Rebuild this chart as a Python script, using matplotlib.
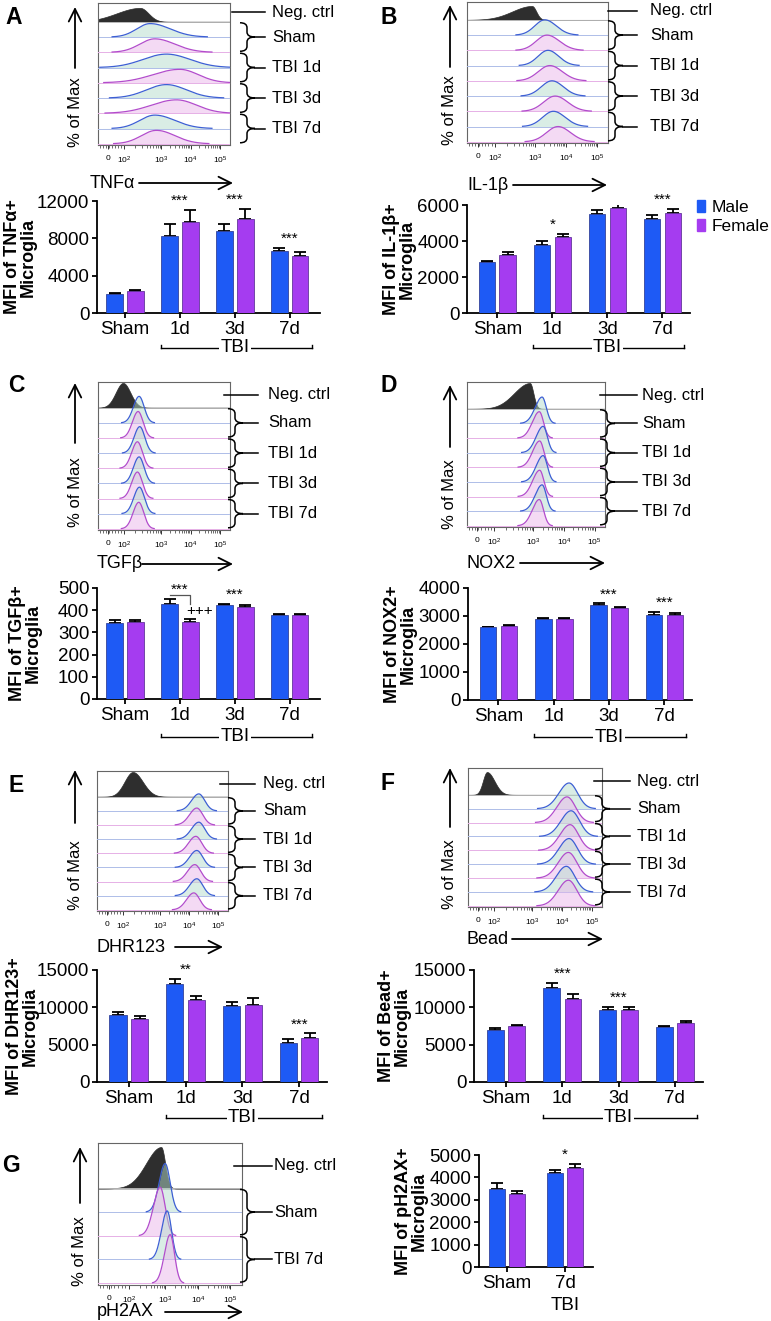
import numpy as np
import matplotlib
matplotlib.use("Agg")
import matplotlib.pyplot as plt
from matplotlib import transforms
from matplotlib.path import Path
from matplotlib.patches import PathPatch, Patch

plt.rcParams['font.family'] = ['Liberation Sans', 'DejaVu Sans']

# ---- bar chart values ----
groups = ["Sham", "1d", "3d", "7d"]
g_groups = ["Sham", "7d"]

tnf_male = [2050, 8300, 8750, 6650]
tnf_male_err = [100, 1200, 800, 300]
tnf_female = [2400, 9750, 10050, 6100]
tnf_female_err = [80, 1300, 1100, 400]
tnf_stars = ["", "***", "***", "***"]

il1b_male = [2850, 3800, 5480, 5250]
il1b_male_err = [30, 220, 250, 200]
il1b_female = [3230, 4200, 5820, 5530]
il1b_female_err = [150, 200, 250, 250]
il1b_stars = ["", "*", "***", "***"]

tgfb_male = [343, 430, 424, 377]
tgfb_male_err = [12, 22, 5, 8]
tgfb_female = [347, 345, 415, 379]
tgfb_female_err = [11, 17, 7, 6]
tgfb_stars = ["", "***", "***", ""]

nox2_male = [2590, 2880, 3400, 3040]
nox2_male_err = [20, 40, 50, 110]
nox2_female = [2650, 2880, 3270, 3020]
nox2_female_err = [25, 35, 50, 100]
nox2_stars = ["", "", "***", "***"]

dhr_male = [8950, 13100, 10200, 5250]
dhr_male_err = [400, 700, 550, 450]
dhr_female = [8400, 11000, 10300, 5950]
dhr_female_err = [400, 500, 900, 550]
dhr_stars = ["", "**", "", "***"]

bead_male = [6950, 12600, 9650, 7350]
bead_male_err = [300, 650, 420, 120]
bead_female = [7500, 11100, 9650, 7950]
bead_female_err = [150, 650, 420, 250]
bead_stars = ["", "***", "***", ""]

ph2ax_male = [3480, 4200]
ph2ax_male_err = [270, 120]
ph2ax_female = [3250, 4420]
ph2ax_female_err = [130, 200]
ph2ax_stars = ["", "*"]

# ---- histogram peaks (position on display axis, left / right spread) ----
# order: Sham M, Sham F, 1d M, 1d F, 3d M, 3d F, 7d M, 7d F
tick_labels = ["0", "$\\mathregular{10^2}$", "$\\mathregular{10^3}$",
               "$\\mathregular{10^4}$", "$\\mathregular{10^5}$"]
tick_pos = [1.6, 2.08, 3.2, 4.07, 4.95]
g_tick_pos = [1.63, 2.23, 3.31, 4.3, 5.26]

a_neg = (2.56, 0.7, 0.25)
a_peak = [2.86, 3.0, 3.35, 3.75, 3.35, 3.65, 3.0, 3.05]
a_left = [0.4, 0.45, 0.7, 0.8, 0.6, 0.75, 0.45, 0.45]
a_right = [0.6, 0.6, 0.7, 0.55, 0.6, 0.6, 0.6, 0.55]

b_neg = (3.12, 0.55, 0.12)
b_peak = [3.48, 3.54, 3.57, 3.62, 3.68, 3.77, 3.72, 3.85]
b_left = [0.28, 0.3, 0.28, 0.32, 0.3, 0.32, 0.3, 0.32]
b_right = [0.32, 0.35, 0.3, 0.35, 0.32, 0.35, 0.33, 0.35]

c_neg = (2.05, 0.22, 0.22)
c_peak = [2.53, 2.5, 2.55, 2.48, 2.53, 2.48, 2.54, 2.52]
c_left = [0.17] * 8
c_right = [0.15] * 8

d_neg = (3.1, 0.45, 0.1)
d_peak = [3.45, 3.37, 3.48, 3.38, 3.48, 3.38, 3.45, 3.37]
d_left = [0.2] * 8
d_right = [0.12] * 8

e_neg = (2.38, 0.25, 0.3)
e_peak = [4.37, 4.31, 4.37, 4.28, 4.31, 4.25, 4.31, 4.22]
e_left = [0.22] * 8
e_right = [0.18] * 8

f_neg = (1.86, 0.12, 0.22)
f_peak = [4.28, 4.22, 4.34, 4.31, 4.28, 4.26, 4.2, 4.26]
f_left = [0.3] * 8
f_right = [0.25] * 8

g_neg = (3.19, 0.45, 0.12)
g_peak = [3.31, 3.16, 3.37, 3.46]
g_left = [0.18, 0.2, 0.17, 0.17]
g_right = [0.15, 0.15, 0.13, 0.13]

MALE = '#1e5af5'
FEMALE = '#a53cf0'
W, H = 771, 1321

fig = plt.figure(figsize=(W / 100, H / 100), dpi=100)
ov = fig.add_axes([0, 0, 1, 1], zorder=5)
ov.set_xlim(0, W)
ov.set_ylim(H, 0)
ov.axis('off')
ov.patch.set_visible(False)


def px_axes(x0, y0, x1, y1):
    return fig.add_axes([x0 / W, 1 - y1 / H, (x1 - x0) / W, (y1 - y0) / H])


def peak(xs, mu, sl, sr):
    s = np.where(xs < mu, sl, sr)
    return np.exp(-0.5 * ((xs - mu) / s) ** 2)


def row_px(ax, y):
    return H - ax.transData.transform((ax.get_xlim()[0], y))[1]


def brace(x0, ya, yb, stem_end):
    xm, xt = x0 + 7, x0 + 15
    ym = (ya + yb) / 2
    r = min(5, (yb - ya) / 4)
    verts = [(x0, ya), (xm, ya), (xm, ya + r), (xm, ym - r), (xm, ym), (xt, ym),
             (xm, ym), (xm, ym + r), (xm, yb - r), (xm, yb), (x0, yb)]
    codes = [Path.MOVETO, Path.CURVE3, Path.CURVE3, Path.LINETO, Path.CURVE3, Path.CURVE3,
             Path.CURVE3, Path.CURVE3, Path.LINETO, Path.CURVE3, Path.CURVE3]
    ov.add_patch(PathPatch(Path(verts, codes), fc='none', ec='k', lw=1.1))
    ov.plot([xt, stem_end], [ym, ym], color='k', lw=1.1)


def hist_panel(rect, xlim, ticks, neg, peaks, lefts, rights, neg_rows, neg_h, h,
               names, brace_x0, stem_end, neg_x0, label_x):
    ax = px_axes(*rect)
    n = len(peaks)
    xs = np.linspace(xlim[0], xlim[1], 600)
    ax.set_xlim(xlim)
    ax.set_ylim(-0.08, n + neg_rows)
    ax.fill_between(xs, n, n + neg_h * peak(xs, *neg), color='#2e2e2e', lw=0.5, zorder=1)
    ax.axhline(n, color='#c8c8c8', lw=0.6, zorder=1)
    for i, (mu, sl, sr) in enumerate(zip(peaks, lefts, rights)):
        base = n - 1 - i
        male = i % 2 == 0
        lc = '#3d5fd4' if male else '#b24ccc'
        fc = '#b5dccd' if male else '#eab6ea'
        bc = '#aebde8' if male else '#e6b0e6'
        yv = h * peak(xs, mu, sl, sr)
        z = 2 + i
        ax.fill_between(xs, base, base + yv, color=fc, alpha=0.5, lw=0, zorder=z)
        ax.axhline(base, color=bc, lw=0.7, zorder=z)
        ax.plot(xs, np.where(yv > 0.015, base + yv, np.nan), color=lc, lw=0.9, zorder=z)
    ax.set_yticks([])
    ax.set_xticks(ticks)
    ax.set_xticklabels(tick_labels)
    minor = list(np.linspace(xlim[0] + 0.05, ticks[1], 9))
    for a, b in zip(ticks[1:-1], ticks[2:]):
        minor += [a + np.log10(k) * (b - a) for k in range(2, 10)]
    ax.set_xticks(minor, minor=True)
    ax.tick_params(axis='x', which='major', direction='out', length=3, width=0.7,
                   labelsize=6, pad=4, color='#333333')
    ax.tick_params(axis='x', which='minor', direction='out', length=1.8, width=0.5,
                   color='#333333')
    for s in ax.spines.values():
        s.set_color('#666666')
        s.set_linewidth(0.8)
    # brackets and labels on the right
    yneg = row_px(ax, n + neg_rows / 2)
    ov.plot([neg_x0, stem_end], [yneg, yneg], color='k', lw=1.1)
    ov.text(label_x, yneg, "Neg. ctrl", fontsize=12, va='center', ha='left')
    for g, name in enumerate(names):
        ya = row_px(ax, n - 2 * g) + 1
        yb = row_px(ax, n - 2 * g - 2) - 1
        brace(brace_x0, ya, yb, stem_end)
        ov.text(label_x, (ya + yb) / 2, name, fontsize=12, va='center', ha='left')
    return ax


def bar_panel(rect, xlim, labels, male, male_err, female, female_err, ymax, ystep,
              ylabel, label_right, stars, tbi_drop=None, width=0.3, off=0.19):
    ax = px_axes(*rect)
    x = np.arange(len(labels))
    ax.bar(x - off, male, width, color=MALE, edgecolor='#34439a', linewidth=0.6, zorder=3)
    ax.bar(x + off, female, width, color=FEMALE, edgecolor='#62379a', linewidth=0.6, zorder=3)
    zeros = np.zeros(len(labels))
    ax.errorbar(x - off, male, yerr=[zeros, male_err], fmt='none', ecolor='k',
                elinewidth=1.3, capsize=4, capthick=1.3, zorder=2)
    ax.errorbar(x + off, female, yerr=[zeros, female_err], fmt='none', ecolor='k',
                elinewidth=1.3, capsize=4, capthick=1.3, zorder=2)
    ax.set_xlim(xlim)
    ax.set_ylim(0, ymax)
    ax.set_yticks(np.arange(0, ymax + 1, ystep))
    ax.set_xticks(x)
    ax.set_xticklabels(labels)
    for s in ['top', 'right']:
        ax.spines[s].set_visible(False)
    for s in ['left', 'bottom']:
        ax.spines[s].set_linewidth(1.3)
    ax.tick_params(labelsize=13.5, length=3.5, width=1.3, pad=2)
    ax.set_ylabel(ylabel, fontsize=13, fontweight='bold', linespacing=0.95)
    ax.yaxis.set_label_coords((label_right - rect[0]) / (rect[2] - rect[0]), 0.5)
    tops = np.maximum(np.add(male, male_err), np.add(female, female_err))
    for xi, t, s in zip(x, tops, stars):
        if s:
            ax.annotate(s, (xi, t), xytext=(0, 6.5), textcoords='offset points',
                        ha='center', va='center', fontsize=11)
    if tbi_drop is not None:
        tr = transforms.blended_transform_factory(ax.transData, ax.transAxes)
        hpx = ax.bbox.height
        yf = -tbi_drop / hpx
        x0, x1 = 1 - 0.35, len(labels) - 1 + 0.4
        ax.plot([x0, x1], [yf, yf], color='k', lw=1.0, transform=tr, clip_on=False)
        for xe in (x0, x1):
            ax.plot([xe, xe], [yf, yf + 3 / hpx], color='k', lw=1.0, transform=tr, clip_on=False)
        ax.text(2, yf, "TBI", transform=tr, ha='center', va='center', fontsize=13.5,
                bbox=dict(fc='white', ec='none', pad=1))
    return ax


# ---------------- histograms ----------------
names4 = ["Sham", "TBI 1d", "TBI 3d", "TBI 7d"]
hist_panel((98, 3, 230, 145), (1.3, 5.25), tick_pos, a_neg, a_peak, a_left, a_right,
           1.23, 0.91, 0.88, names4, 240, 265, 232, 272)
hist_panel((467, 2, 608, 143), (1.3, 5.25), tick_pos, b_neg, b_peak, b_left, b_right,
           1.17, 0.91, 1.0, names4, 608, 637, 608, 650)
hist_panel((98, 382, 230, 530), (1.3, 5.25), tick_pos, c_neg, c_peak, c_left, c_right,
           1.7, 1.64, 1.75, names4, 228, 258, 224, 268)
hist_panel((467, 382, 605, 527), (1.3, 5.25), tick_pos, d_neg, d_peak, d_left, d_right,
           1.83, 1.76, 1.8, names4, 600, 637, 600, 642)
hist_panel((97, 771, 228, 911), (1.3, 5.25), tick_pos, e_neg, e_peak, e_left, e_right,
           1.82, 1.75, 1.2, names4, 228, 255, 220, 263)
hist_panel((468, 768, 602, 907), (1.3, 5.25), tick_pos, f_neg, f_peak, f_left, f_right,
           1.93, 1.64, 1.85, names4, 595, 630, 594, 637)
hist_panel((98, 1143, 242, 1285), (1.3, 5.61), g_tick_pos, g_neg, g_peak, g_left, g_right,
           1.92, 1.75, 2.05, ["Sham", "TBI 7d"], 240, 272, 234, 274)

# ---------------- bar charts ----------------
bar_panel((97, 201, 320, 313), (-0.51, 3.55), groups, tnf_male, tnf_male_err,
          tnf_female, tnf_female_err, 12000, 4000, "MFI of TNFα+\nMicroglia", 37,
          tnf_stars, tbi_drop=35)
axb = bar_panel((467, 205, 690, 313), (-0.55, 3.5), groups, il1b_male, il1b_male_err,
                il1b_female, il1b_female_err, 6000, 2000, "MFI of IL-1β+\nMicroglia", 416,
                il1b_stars, tbi_drop=35)
axb.legend(handles=[Patch(facecolor=MALE, edgecolor=MALE),
                    Patch(facecolor=FEMALE, edgecolor=FEMALE)],
           labels=["Male", "Female"], loc='upper left', bbox_to_anchor=(1.03, 1.05),
           frameon=False, fontsize=12.5, handlelength=0.5, handleheight=0.7,
           handletextpad=0.35, labelspacing=0.25, borderpad=0, borderaxespad=0)
axc = bar_panel((97, 588, 320, 699), (-0.51, 3.55), groups, tgfb_male, tgfb_male_err,
                tgfb_female, tgfb_female_err, 500, 100, "MFI of TGFβ+\nMicroglia", 42,
                tgfb_stars, tbi_drop=38)
# male vs female bracket at 1d
k = 500 / axc.bbox.height
ytop = tgfb_male[1] + tgfb_male_err[1] + 4 * k
axc.plot([1 - 0.19, 1 + 0.19, 1 + 0.19], [ytop, ytop, ytop - 9 * k], color='#555555', lw=0.9)
axc.text(1 + 0.19 + 0.17, tgfb_female[1] + tgfb_female_err[1] + 8 * k, "+++",
         ha='center', va='center', fontsize=11)
bar_panel((468, 588, 692, 700), (-0.55, 3.5), groups, nox2_male, nox2_male_err,
          nox2_female, nox2_female_err, 4000, 1000, "MFI of NOX2+\nMicroglia", 417,
          nox2_stars, tbi_drop=37)
bar_panel((97, 970, 327, 1082), (-0.56, 3.49), groups, dhr_male, dhr_male_err,
          dhr_female, dhr_female_err, 15000, 5000, "MFI of DHR123+\nMicroglia", 39,
          dhr_stars, tbi_drop=36)
bar_panel((474, 970, 703, 1082), (-0.57, 3.5), groups, bead_male, bead_male_err,
          bead_female, bead_female_err, 15000, 5000, "MFI of Bead+\nMicroglia", 411,
          bead_stars, tbi_drop=36)
axg = bar_panel((479, 1155, 593, 1267), (-0.48, 1.48), g_groups, ph2ax_male, ph2ax_male_err,
                ph2ax_female, ph2ax_female_err, 5000, 1000, "MFI of pH2AX+\nMicroglia", 428,
                ph2ax_stars, width=0.28, off=0.17)
trg = transforms.blended_transform_factory(axg.transData, axg.transAxes)
axg.text(1, -38 / axg.bbox.height, "TBI", transform=trg, ha='center', va='center', fontsize=13.5)

# ---------------- decorations ----------------
arrow = dict(arrowstyle='->,head_length=0.9,head_width=0.45', lw=1.3, color='k',
             shrinkA=0, shrinkB=0, mutation_scale=10)
for ch, x, y in [("A", 5, 17), ("B", 380, 17), ("C", 8, 386), ("D", 380, 386),
                 ("E", 8, 785), ("F", 380, 784), ("G", 2, 1165)]:
    ov.text(x, y, ch, fontsize=16.5, fontweight='bold', ha='left', va='center')

for x, yc, y0, y1 in [(75, 112, 68, 7), (450, 110, 67, 5), (75, 492, 443, 383),
                      (450, 494, 447, 385), (75, 875, 823, 770), (450, 874, 827, 768),
                      (80, 1251, 1203, 1147)]:
    ov.text(x, yc, "% of Max", rotation=90, fontsize=12, ha='center', va='center')
    ov.annotate("", xy=(x, y1), xytext=(x, y0), arrowprops=arrow)

for txt, x, y, a0, a1 in [("TNFα", 90, 183, 139, 233), ("IL-1β", 467, 185, 513, 607),
                          ("TGFβ", 97, 564, 142, 233), ("NOX2", 467, 563, 520, 605),
                          ("DHR123", 97, 947, 175, 223), ("Bead", 467, 939, 512, 603),
                          ("pH2AX", 97, 1312, 165, 243)]:
    ov.text(x, y, txt, fontsize=13, ha='left', va='center')
    ov.annotate("", xy=(a1, y), xytext=(a0, y), arrowprops=arrow)

fig.savefig("out.png", dpi=100)
